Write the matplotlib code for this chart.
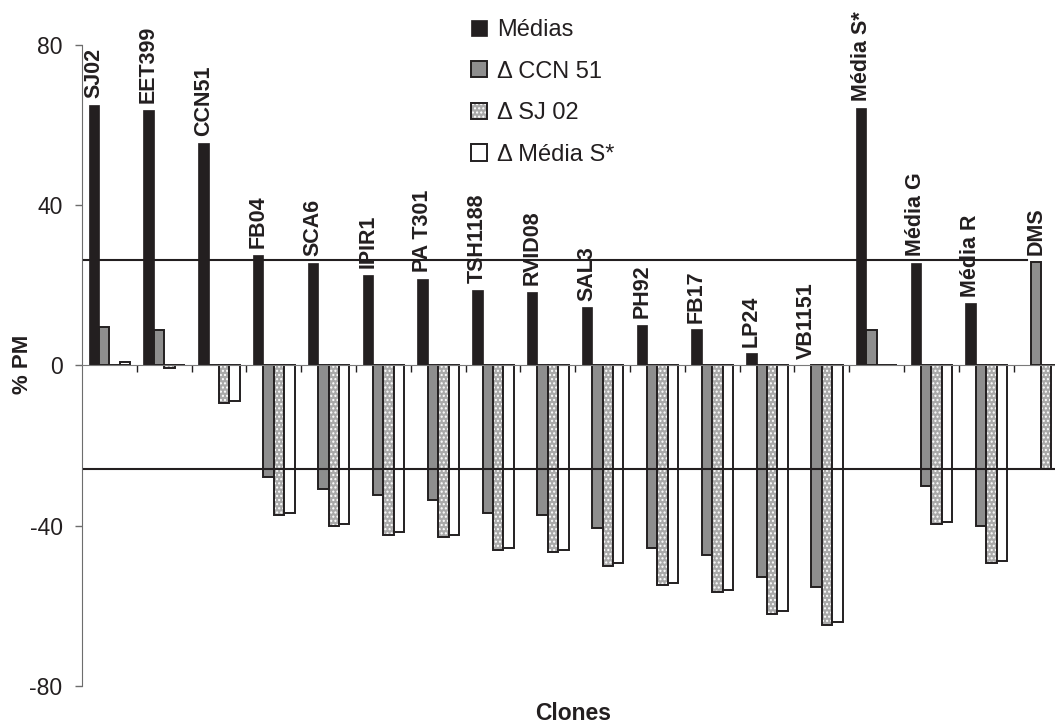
import numpy as np
import matplotlib
matplotlib.use("Agg")
import matplotlib.pyplot as plt
from matplotlib.patches import Patch

plt.rcParams["font.family"] = ["Liberation Sans", "DejaVu Sans"]
plt.rcParams["hatch.linewidth"] = 1.0

clones = ["SJ02", "EET399", "CCN51", "FB04", "SCA6", "IPIR1", "PA T301", "TSH1188",
          "RVID08", "SAL3", "PH92", "FB17", "LP24", "VB1151", "Média S*", "Média G",
          "Média R", "DMS"]
medias = [65.0, 63.8, 55.7, 27.7, 25.5, 22.7, 21.7, 18.8, 18.3, 14.5, 10.2, 9.0, 3.0,
          0.0, 64.3, 25.5, 15.5, 0.0]
d_ccn51 = [9.6, 8.9, 0.0, -27.9, -30.75, -32.4, -33.5, -36.8, -37.25, -40.6, -45.6,
           -47.25, -52.75, -55.4, 8.8, -30.2, -40.0, 25.9]
d_sj02 = [0.0, -0.6, -9.3, -37.25, -40.2, -42.25, -42.9, -46.2, -46.7, -50.0, -54.8,
          -56.6, -62.0, -64.75, 0.0, -39.5, -49.3, -25.9]
d_media_s = [0.8, 0.0, -8.9, -36.8, -39.6, -41.7, -42.25, -45.7, -46.2, -49.3, -54.3,
             -56.0, -61.4, -64.2, 0.0, -39.0, -48.75, 0.0]
dms_upper = 26.4
dms_lower = -25.8

black = "#231f20"
gray = "#8e8e8e"
dot_bg = "#a9a9a9"

fig = plt.figure(figsize=(10.55, 7.26), dpi=100)
ax = fig.add_axes([82 / 1055, 40.3 / 726, 1 - 82 / 1055, 640.4 / 726])

x = np.arange(len(clones))
w = 0.19
edge = dict(edgecolor=black, linewidth=1.4)

ax.bar(x - 1.5 * w, medias, w, color=black, edgecolor=black, linewidth=0.5, zorder=3)
ax.bar(x - 0.5 * w, d_ccn51, w, color=gray, zorder=3, **edge)
ax.bar(x + 0.5 * w, d_sj02, w, color=dot_bg, edgecolor="white", hatch="....",
       linewidth=0, zorder=3)
ax.bar(x + 0.5 * w, d_sj02, w, fill=False, zorder=3, **edge)
ax.bar(x + 1.5 * w, d_media_s, w, color="white", zorder=3, **edge)

# reference lines (DMS)
ax.plot([-0.46, 16.74], [dms_upper, dms_upper], color=black, lw=1.5, zorder=4)
ax.plot([-0.46, 17.4], [dms_lower, dms_lower], color=black, lw=1.5, zorder=4)

# clone names above the tallest bar of each group
series = np.array([medias, d_ccn51, d_sj02, d_media_s])
offs = np.array([-1.5, -0.5, 0.5, 1.5]) * w
for i, name in enumerate(clones):
    k = int(np.argmax(series[:, i]))
    top = max(series[k, i], 0)
    ax.annotate(name, (x[i] + offs[k], top), xytext=(0, 5), textcoords="offset points",
                rotation=90, ha="center", va="bottom", fontsize=15.5,
                fontweight="bold", color=black, annotation_clip=False)

ax.set_xticks(np.arange(0.5, 17, 1))
ax.set_xticklabels([])
ax.set_yticks([-80, -40, 0, 40, 80])
ax.set_yticklabels(["-80", "-40", "0", "40", "80"])
ax.set_xlim(-0.5, 17.255)
ax.set_ylim(-80, 80)
ax.tick_params(axis="y", direction="out", length=5, width=1, color="#6d6d6d",
               labelsize=16.5, labelcolor=black, pad=9)
ax.tick_params(axis="x", direction="out", length=5, width=1, color=black)
for s in ["top", "right"]:
    ax.spines[s].set_visible(False)
ax.spines["bottom"].set_position(("data", 0))
ax.spines["bottom"].set_color("#7a7a7a")
ax.spines["left"].set_color("#6d6d6d")
ax.spines["bottom"].set_zorder(5)

fig.text(22 / 1055, 1 - 364 / 726, "% PM", rotation=90, ha="center", va="center",
         fontsize=16, fontweight="bold", color=black)
fig.text(573 / 1055, 1 - 713 / 726, "Clones", ha="center", va="center",
         fontsize=16.5, fontweight="bold", color=black)

h_med = Patch(facecolor=black, edgecolor=black, linewidth=0.5)
h_ccn = Patch(facecolor=gray, edgecolor=black, linewidth=1.4)
h_sj_bg = Patch(facecolor=dot_bg, edgecolor="white", hatch="....", linewidth=0)
h_sj_ed = Patch(fill=False, edgecolor=black, linewidth=1.4)
h_ms = Patch(facecolor="white", edgecolor=black, linewidth=1.4)
fig.legend([h_med, h_ccn, (h_sj_bg, h_sj_ed), h_ms],
           ["Médias", "\u0394 CCN 51", "\u0394 SJ 02", "\u0394 Média S*"],
           loc="upper left", bbox_to_anchor=(471 / 1055, 1 - 19 / 726),
           frameon=False, fontsize=17, handlelength=0.68, handleheight=0.68,
           handletextpad=0.42, labelspacing=0.83, borderaxespad=0, borderpad=0,
           labelcolor=black)

fig.savefig("out.png", dpi=100)
